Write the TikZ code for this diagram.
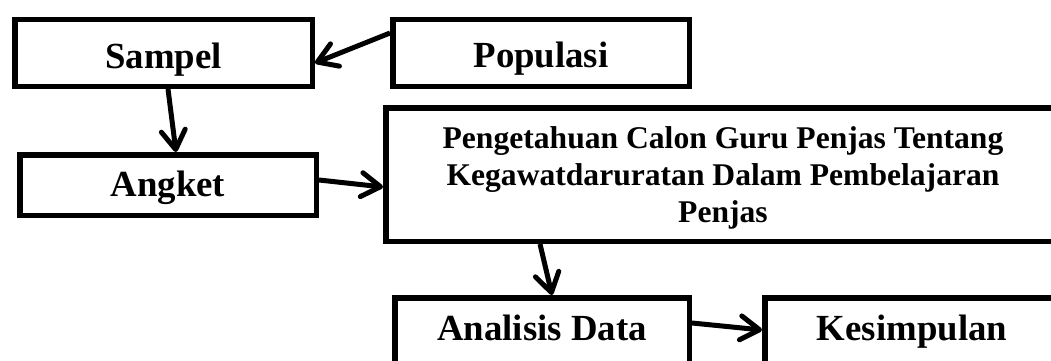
\documentclass[tikz,border=0pt]{standalone}
\usepackage{fontspec}
\setmainfont{Liberation Serif}
\usetikzlibrary{arrows.meta,calc}
\begin{document}
\begin{tikzpicture}[x=1pt,y=-1pt,
  box/.style={draw=black, line width=5.5pt, inner xsep=0pt, inner ysep=0pt,
    anchor=north, font=\fontsize{36.8}{44}\selectfont\bfseries, minimum width=296.5pt},
  conn/.style={line width=5pt, -{Straight Barb[length=19pt,width=24pt,round]}}]
\useasboundingbox (0,0) rectangle (1051,361);
\node[box, minimum width=297.5pt, text height=48.5pt, text depth=18pt] (sampel) at (163.5,17) {Sampel};
\node[box, text height=48pt, text depth=18.5pt] (populasi) at (541,17) {Populasi};
\node[box, text height=42pt, text depth=18.5pt] (angket) at (168,152) {Angket};
\node[box, minimum width=674.5pt, text height=40.25pt, text depth=93.25pt,
  font=\fontsize{31.6}{37}\selectfont\bfseries] (big) at (723,105)
  {\begin{tabular}[t]{@{}c@{}}Pengetahuan Calon Guru Penjas Tentang\\ Kegawatdaruratan Dalam Pembelajaran\\ Penjas\end{tabular}};
\node[box, minimum width=294.5pt, text height=42.25pt, text depth=30pt] (analisis) at (542,295) {Analisis Data};
\node[box, minimum width=294.5pt, text height=42.25pt, text depth=30pt] (kesimpulan) at (912,295) {Kesimpulan};
\draw[conn] ($(populasi.north west)+(0,16)$) -- ($(sampel.north east)+(0,46)$);
\draw[conn] ($(sampel.south west)+(156,0)$) -- ($(angket.north west)+(159,0)$);
\draw[conn] ($(angket.north east)+(0,28)$) -- ($(big.north west)+(0,82)$);
\draw[conn] ($(big.south west)+(157,0)$) -- ($(analisis.north west)+(160,0)$);
\draw[conn] ($(analisis.north east)+(0,28)$) -- ($(kesimpulan.north west)+(0,35)$);
\end{tikzpicture}
\end{document}
